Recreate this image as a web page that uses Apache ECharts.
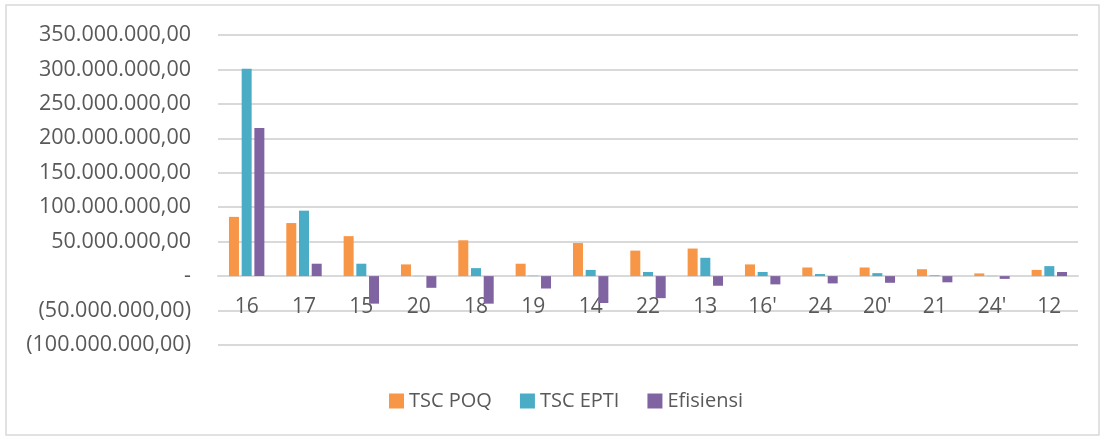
<!DOCTYPE html>
<html>
<head>
<meta charset="utf-8">
<script src="https://cdn.jsdelivr.net/npm/echarts@6/dist/echarts.min.js"></script>
<style>
html,body{margin:0;padding:0;background:#fff;}
#chart{width:1100px;height:437px;}
</style>
</head>
<body>
<div id="chart"></div>
<script>
const categories = ["16","17","15","20","18","19","14","22","13","16'","24","20'","21","24'","12"];
const tscPOQ   = [86e6, 77e6, 58e6, 17e6, 52e6, 18e6, 48e6, 37e6, 40e6, 17e6, 12.5e6, 12.5e6, 10e6, 3.9e6, 9e6];
const tscEPTI  = [301e6, 95e6, 18e6, 0.3e6, 11.6e6, 0.5e6, 9e6, 6e6, 26.6e6, 6e6, 3e6, 4.3e6, 1e6, 0.3e6, 14.5e6];
const efisiensi = [215e6, 18e6, -40e6, -17e6, -40e6, -18e6, -39e6, -32e6, -14e6, -12e6, -10.6e6, -9.7e6, -9e6, -4e6, 6e6];
const seriesNames = ["TSC POQ", "TSC EPTI", "Efisiensi"];
const yMin = -100e6, yMax = 350e6, yStep = 50e6;

function fmt(v){
  if (v === 0) return '-';
  const a = Math.abs(v);
  const s = Math.round(a).toString().replace(/\B(?=(\d{3})+(?!\d))/g, '.') + ',00';
  return v < 0 ? '(' + s + ')' : s;
}

const gridTop = 35, gridBottom = 92, H = 437;
const plotH = H - gridTop - gridBottom;
const zeroOffset = -plotH * (0 - yMin) / (yMax - yMin);

const chart = echarts.init(document.getElementById('chart'), null, {renderer:'canvas'});
const font = "'Open Sans', sans-serif";
chart.setOption({
  animation: false,
  textStyle: {fontFamily: font},
  graphic: [{
    type: 'rect', shape: {x: 6, y: 5, width: 1093, height: 430},
    style: {fill: 'none', stroke: '#d9d9d9', lineWidth: 1.5}, silent: true, z: -1
  }],
  grid: {left: 218, right: 22, top: gridTop, bottom: gridBottom, containLabel: false},
  legend: {
    data: seriesNames, top: 386, left: 384,
    itemWidth: 15, itemHeight: 15, itemGap: 28, icon: 'rect',
    textStyle: {fontSize: 20, color: '#595959', fontFamily: font}
  },
  xAxis: {
    type: 'category', data: categories, position: 'bottom', offset: zeroOffset,
    axisLine: {onZero: false, lineStyle: {color: '#d9d9d9', width: 2}},
    axisTick: {show: false},
    axisLabel: {fontSize: 21, color: '#595959', margin: 20, fontFamily: font}
  },
  yAxis: {
    type: 'value', min: yMin, max: yMax, interval: yStep,
    axisLine: {show: false}, axisTick: {show: false},
    splitLine: {lineStyle: {color: '#d9d9d9', width: 2}},
    axisLabel: {fontSize: 21.5, color: '#595959', margin: 27, formatter: fmt, fontFamily: font}
  },
  series: [
    {name: seriesNames[0], type: 'bar', data: tscPOQ, barWidth: 10, barGap: '27%', itemStyle: {color: '#F79646'}},
    {name: seriesNames[1], type: 'bar', data: tscEPTI, barWidth: 10, barGap: '27%', itemStyle: {color: '#4BACC6'}},
    {name: seriesNames[2], type: 'bar', data: efisiensi, barWidth: 10, barGap: '27%', itemStyle: {color: '#8064A2'}}
  ]
});
</script>
</body>
</html>
